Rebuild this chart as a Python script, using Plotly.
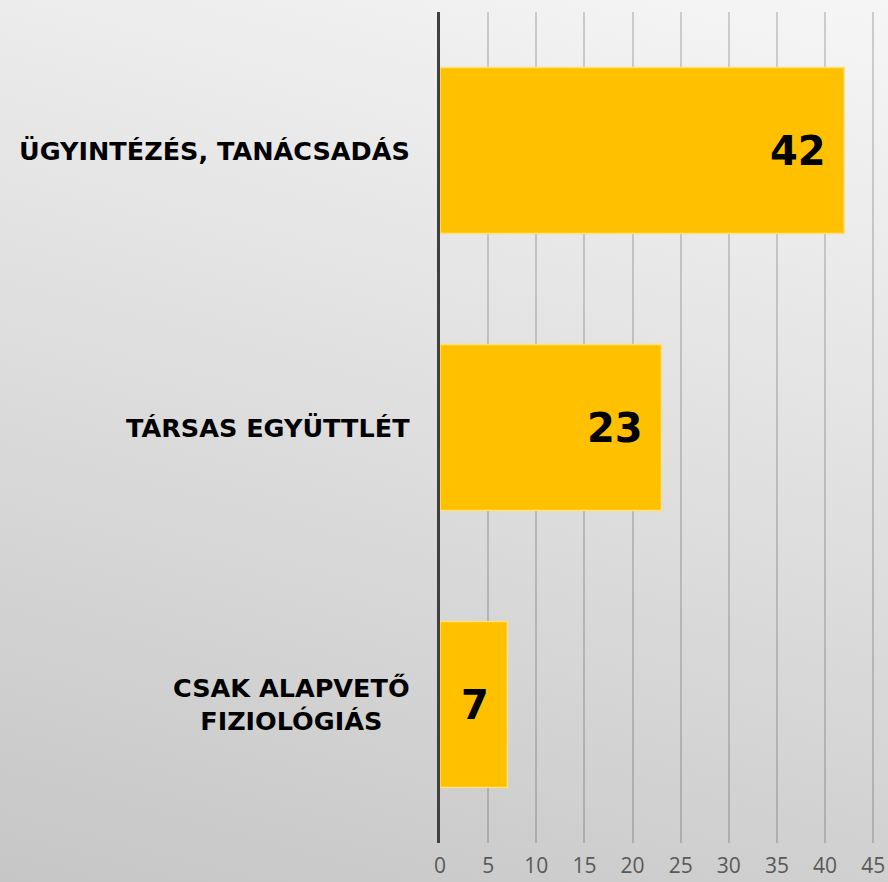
import base64
import plotly.graph_objects as go

categories = ["CSAK ALAPVETŐ<br>FIZIOLÓGIÁS", "TÁRSAS EGYÜTTLÉT", "ÜGYINTÉZÉS, TANÁCSADÁS"]
values = [7, 23, 42]
tick_vals = [0, 5, 10, 15, 20, 25, 30, 35, 40, 45]

# final figure size = page size; plot area: x 440..(45 at 873), y 12..843
W, H = 888, 882
BM = 8  # default html body margin, removed after load
XMAX = 45.5
right_px = 440 + (873 - 440) * XMAX / 45
ML, MR, MT, MB = 440, W - right_px, 12, H - 843
pw, ph = W - ML - MR, H - MT - MB

svg = (f'<svg xmlns="http://www.w3.org/2000/svg" width="{W}" height="{H}" '
       f'viewBox="0 0 {W} {H}" preserveAspectRatio="none">'
       f'<defs><linearGradient id="g" gradientUnits="userSpaceOnUse" x1="{W}" y1="0" x2="608" y2="1045">'
       '<stop offset="0" stop-color="#f6f6f6"/>'
       '<stop offset="1" stop-color="#c6c6c6"/></linearGradient></defs>'
       f'<rect x="0" y="0" width="{W}" height="{H}" fill="url(#g)"/></svg>')
src = "data:image/svg+xml;base64," + base64.b64encode(svg.encode()).decode()

fig = go.Figure()
fig.add_trace(go.Bar(
    x=values, y=categories, orientation="h",
    marker=dict(color="#FFC000", line=dict(color="#FFE07A", width=1.5)),
    width=0.6, hoverinfo="skip",
))

for v, c in zip(values, categories):
    fig.add_annotation(x=v, y=c, text=f"<b>{v}</b>", showarrow=False,
                       xanchor="right", xshift=-16,
                       font=dict(family="DejaVu Sans", size=40, color="#000000"))
    fig.add_annotation(xref="paper", x=0, y=c, text=f"<b>{c}</b>", showarrow=False,
                       xanchor="right", xshift=-28, align="center",
                       font=dict(family="DejaVu Sans", size=25.5, color="#000000"))

fig.add_layout_image(dict(source=src, xref="paper", yref="paper",
                          x=-ML / pw, y=1 + MT / ph, sizex=W / pw, sizey=H / ph,
                          xanchor="left", yanchor="top", sizing="stretch", layer="below"))

fig.update_layout(
    # first drawn inside the 8px body margin, then resized to W x H once the margin is gone
    width=W - 2 * BM, height=H - 2 * BM,
    margin=dict(l=ML, r=MR, t=MT, b=MB, pad=0, autoexpand=False),
    paper_bgcolor="rgba(0,0,0,0)", plot_bgcolor="rgba(0,0,0,0)",
    showlegend=False,
    xaxis=dict(range=[0, XMAX], tickvals=tick_vals, showgrid=True,
               gridcolor="rgba(0,0,0,0.16)", gridwidth=2, zeroline=False,
               showline=False, ticks="outside", ticklen=4,
               tickcolor="rgba(0,0,0,0)", fixedrange=True,
               ticklabeloverflow="allow",
               tickfont=dict(family="Open Sans", size=21, color="#595959")),
    yaxis=dict(showticklabels=False, showgrid=False, zeroline=False,
               showline=True, linecolor="#404040", linewidth=3,
               range=[-0.5, 2.5], fixedrange=True),
)

post = ("var gd=document.getElementById('{plot_id}');"
        "document.body.style.margin='0';"
        "document.documentElement.style.background=\"url('" + src +
        "') no-repeat 0 0 / " + f"{W}px {H}px\";"
        "document.body.style.background='transparent';"
        "gd.style.width='" + str(W) + "px';gd.style.height='" + str(H) + "px';"
        "Plotly.relayout(gd,{width:" + str(W) + ",height:" + str(H) + "});")

fig.write_html("out.html", config={"displayModeBar": False}, post_script=post)
